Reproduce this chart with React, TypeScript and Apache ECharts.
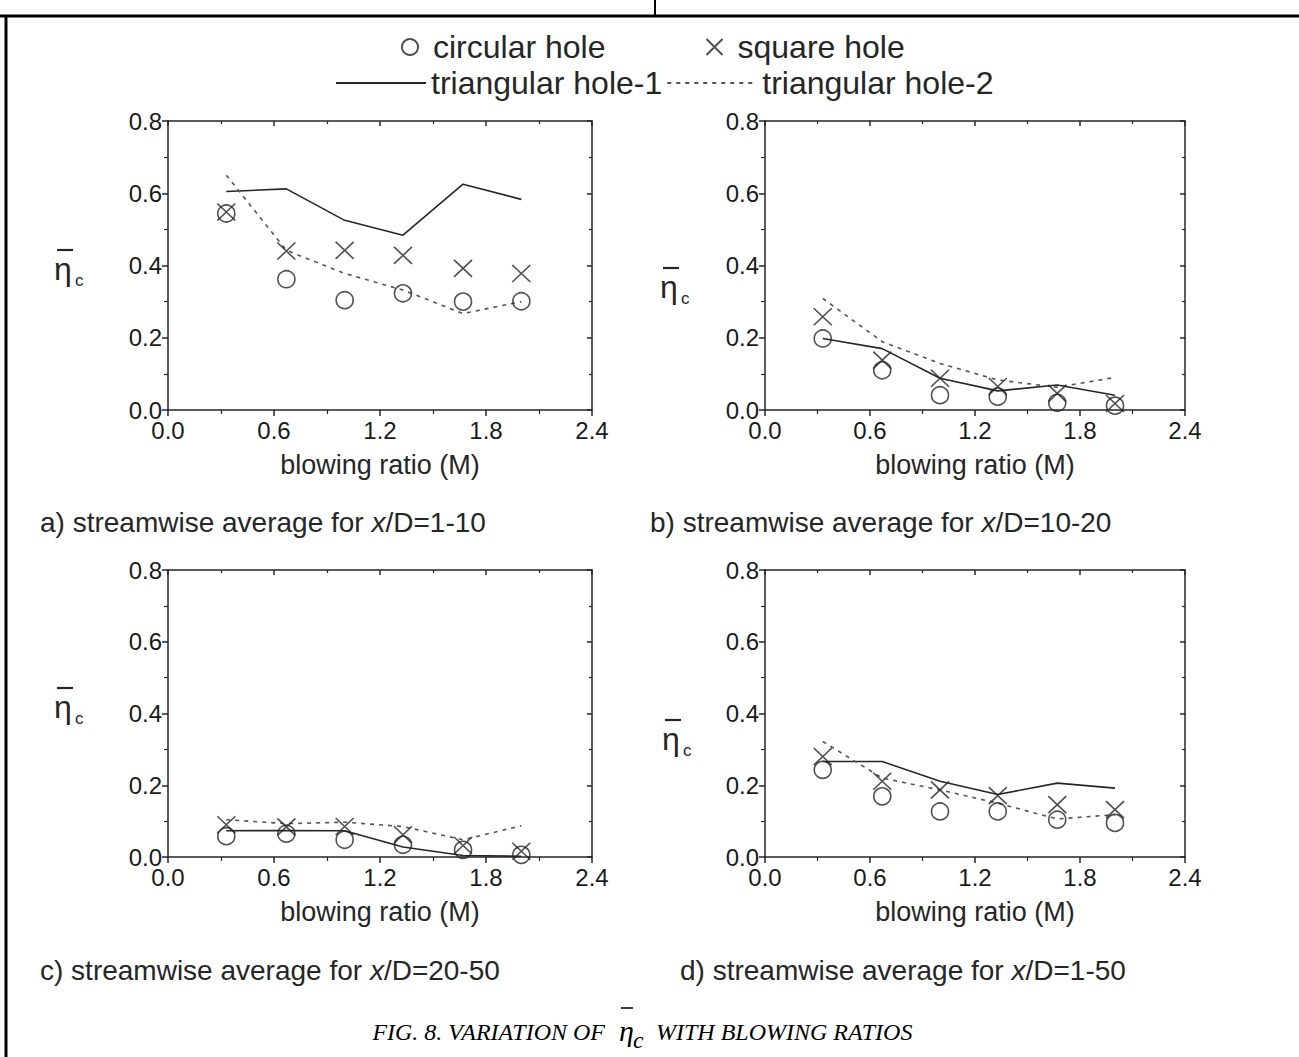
import React, { useEffect, useRef } from "react";
import * as echarts from "echarts";

// ---- data ----
const blowingRatio = [0.33, 0.67, 1.0, 1.33, 1.67, 2.0];

const aCircular = [0.544, 0.362, 0.304, 0.323, 0.3, 0.301];
const aSquare = [0.548, 0.44, 0.442, 0.428, 0.392, 0.378];
const aTri1 = [0.605, 0.612, 0.525, 0.484, 0.625, 0.583];
const aTri2 = [0.65, 0.442, 0.378, 0.332, 0.267, 0.3];

const bCircular = [0.198, 0.11, 0.041, 0.037, 0.02, 0.012];
const bSquare = [0.258, 0.138, 0.088, 0.065, 0.046, 0.018];
const bTri1 = [0.198, 0.17, 0.088, 0.053, 0.069, 0.041];
const bTri2 = [0.309, 0.189, 0.129, 0.083, 0.063, 0.09];

const cCircular = [0.058, 0.065, 0.048, 0.034, 0.02, 0.006];
const cSquare = [0.09, 0.084, 0.085, 0.062, 0.032, 0.016];
const cTri1 = [0.073, 0.074, 0.073, 0.028, 0.004, 0.002];
const cTri2 = [0.104, 0.093, 0.097, 0.085, 0.048, 0.087];

const dCircular = [0.243, 0.169, 0.127, 0.127, 0.104, 0.095];
const dSquare = [0.28, 0.211, 0.187, 0.171, 0.146, 0.132];
const dTri1 = [0.266, 0.266, 0.211, 0.174, 0.206, 0.192];
const dTri2 = [0.322, 0.22, 0.187, 0.15, 0.106, 0.118];

const xTicks = { min: 0, max: 2.4, interval: 0.6 };
const yTicks = { min: 0, max: 0.8, interval: 0.2 };

const seriesNames = ["circular hole", "square hole", "triangular hole-1", "triangular hole-2"];
const panelTitles = [
  ["a) streamwise average for ", "1-10"],
  ["b) streamwise average for ", "10-20"],
  ["c) streamwise average for ", "20-50"],
  ["d) streamwise average for ", "1-50"],
];
const panels = [
  [aCircular, aSquare, aTri1, aTri2],
  [bCircular, bSquare, bTri1, bTri2],
  [cCircular, cSquare, cTri1, cTri2],
  [dCircular, dSquare, dTri1, dTri2],
];

// ---- layout / style ----
const FONT = '"Liberation Sans", Arial, sans-serif';
const SERIF = '"Liberation Serif", "Times New Roman", serif';
const INK = "#262626";
const grids = [
  { left: 168, top: 121, width: 424, height: 289 },
  { left: 765, top: 121, width: 420, height: 289 },
  { left: 168, top: 570, width: 424, height: 287 },
  { left: 765, top: 570, width: 420, height: 287 },
];
const etaPos = [
  [54, 250],
  [660, 268],
  [54, 688],
  [662, 720],
];
const titlePos = [
  [40, 522],
  [650, 522],
  [40, 970],
  [680, 970],
];

const CROSS = "path://M0,0L20,20M20,0L0,20";

function pairs(ys: number[]) {
  return ys.map((y, i) => [blowingRatio[i], y]);
}

function axisLine() {
  return { show: true, onZero: false, lineStyle: { color: INK, width: 1.5 } };
}

function buildOption() {
  const xAxis: any[] = [];
  const yAxis: any[] = [];
  const series: any[] = [];
  grids.forEach((_, gi) => {
    xAxis.push({
      gridIndex: gi,
      type: "value",
      position: "bottom",
      ...xTicks,
      axisLine: axisLine(),
      axisTick: { show: true, inside: false, length: 6, lineStyle: { color: INK, width: 1.5 } },
      minorTick: { show: true, splitNumber: 2, length: 4, lineStyle: { color: INK, width: 1.2 } },
      axisLabel: {
        formatter: (v: number) => v.toFixed(1),
        fontSize: 24,
        fontFamily: FONT,
        color: "#1a1a1a",
        margin: 8,
      },
      splitLine: { show: false },
      minorSplitLine: { show: false },
      name: "blowing ratio (M)",
      nameLocation: "middle",
      nameGap: 41,
      nameTextStyle: { fontSize: 27, fontFamily: FONT, color: INK },
    });
    xAxis.push({
      gridIndex: gi,
      type: "value",
      position: "top",
      ...xTicks,
      axisLine: axisLine(),
      axisTick: { show: true, inside: true, length: 5, lineStyle: { color: INK, width: 1.5 } },
      minorTick: { show: true, splitNumber: 2, length: 3, lineStyle: { color: INK, width: 1.2 } },
      axisLabel: { show: false },
      splitLine: { show: false },
    });
    yAxis.push({
      gridIndex: gi,
      type: "value",
      position: "left",
      ...yTicks,
      axisLine: axisLine(),
      axisTick: { show: true, inside: false, length: 6, lineStyle: { color: INK, width: 1.5 } },
      minorTick: { show: true, splitNumber: 2, length: 4, lineStyle: { color: INK, width: 1.2 } },
      axisLabel: {
        formatter: (v: number) => v.toFixed(1),
        fontSize: 24,
        fontFamily: FONT,
        color: "#1a1a1a",
        margin: 6,
      },
      splitLine: { show: false },
    });
    yAxis.push({
      gridIndex: gi,
      type: "value",
      position: "right",
      ...yTicks,
      axisLine: axisLine(),
      axisTick: { show: true, inside: true, length: 5, lineStyle: { color: INK, width: 1.5 } },
      minorTick: { show: true, splitNumber: 2, length: 3, lineStyle: { color: INK, width: 1.2 } },
      axisLabel: { show: false },
      splitLine: { show: false },
    });
    const [circ, sq, t1, t2] = panels[gi];
    const xi = gi * 2;
    const yi = gi * 2;
    series.push({
      name: seriesNames[0],
      type: "scatter",
      xAxisIndex: xi,
      yAxisIndex: yi,
      symbol: "circle",
      symbolSize: 17,
      itemStyle: { color: "rgba(0,0,0,0)", borderColor: INK, borderWidth: 1.6 },
      data: pairs(circ),
      z: 3,
    });
    series.push({
      name: seriesNames[1],
      type: "scatter",
      xAxisIndex: xi,
      yAxisIndex: yi,
      symbol: CROSS,
      symbolSize: [18, 17],
      itemStyle: { color: "rgba(0,0,0,0)", borderColor: INK, borderWidth: 1.6 },
      data: pairs(sq),
      z: 3,
    });
    series.push({
      name: seriesNames[2],
      type: "line",
      xAxisIndex: xi,
      yAxisIndex: yi,
      symbol: "none",
      showSymbol: false,
      lineStyle: { color: INK, width: 1.6, type: "solid" },
      itemStyle: { color: INK },
      data: pairs(t1),
      z: 2,
    });
    series.push({
      name: seriesNames[3],
      type: "line",
      xAxisIndex: xi,
      yAxisIndex: yi,
      symbol: "none",
      showSymbol: false,
      lineStyle: { color: "#555", width: 1.6, type: [4, 5] },
      itemStyle: { color: "#555" },
      data: pairs(t2),
      z: 2,
    });
  });

  const graphic: any[] = [];
  // outer frame lines
  graphic.push({ type: "line", shape: { x1: 0, y1: 16, x2: 1299, y2: 16 }, style: { stroke: "#000", lineWidth: 3 } });
  graphic.push({ type: "line", shape: { x1: 6, y1: 16, x2: 6, y2: 1057 }, style: { stroke: "#000", lineWidth: 3 } });
  graphic.push({ type: "line", shape: { x1: 655, y1: 0, x2: 655, y2: 16 }, style: { stroke: "#000", lineWidth: 2 } });

  // y-axis labels (eta bar, subscript c)
  etaPos.forEach(([x, y]) => {
    graphic.push({
      type: "group",
      x,
      y,
      children: [
        { type: "line", shape: { x1: 3, y1: 0, x2: 19, y2: 0 }, style: { stroke: INK, lineWidth: 2.2 } },
        {
          type: "text",
          x: 0,
          y: 3,
          style: { text: "η", font: `32px ${FONT}`, fill: INK, verticalAlign: "top", align: "left" },
        },
        {
          type: "text",
          x: 21,
          y: 22,
          style: { text: "c", font: `17px ${FONT}`, fill: INK, verticalAlign: "top", align: "left" },
        },
      ],
    });
  });

  // panel subtitles
  titlePos.forEach(([x, y], i) => {
    graphic.push({
      type: "text",
      x,
      y,
      style: {
        text: `{n|${panelTitles[i][0]}}{i|x}{n|/D=${panelTitles[i][1]}}`,
        verticalAlign: "middle",
        align: "left",
        rich: {
          n: { fontSize: 28, fontFamily: FONT, fill: INK, color: INK },
          i: { fontSize: 28, fontFamily: FONT, fontStyle: "italic", fill: INK, color: INK },
        },
      },
    });
  });

  // figure caption
  graphic.push({
    type: "text",
    x: 605,
    y: 1032,
    style: { text: "FIG. 8. VARIATION OF", font: `italic 24px ${SERIF}`, fill: "#000", align: "right", verticalAlign: "middle" },
  });
  graphic.push({
    type: "text",
    x: 619,
    y: 1030,
    style: { text: "η", font: `italic 30px ${SERIF}`, fill: "#000", align: "left", verticalAlign: "middle" },
  });
  graphic.push({
    type: "text",
    x: 633,
    y: 1040,
    style: { text: "c", font: `italic 24px ${SERIF}`, fill: "#000", align: "left", verticalAlign: "middle" },
  });
  graphic.push({ type: "line", shape: { x1: 621, y1: 1008, x2: 633, y2: 1008 }, style: { stroke: "#000", lineWidth: 1.5 } });
  graphic.push({
    type: "text",
    x: 656,
    y: 1032,
    style: { text: "WITH BLOWING RATIOS", font: `italic 24px ${SERIF}`, fill: "#000", align: "left", verticalAlign: "middle" },
  });

  const hidden = { opacity: 0, borderWidth: 0 };
  return {
    animation: false,
    backgroundColor: "#fff",
    grid: grids.map((g) => ({ ...g, containLabel: false })),
    xAxis,
    yAxis,
    legend: [
      {
        data: [
          { name: seriesNames[0], icon: "circle", itemStyle: { color: "rgba(0,0,0,0)", borderColor: INK, borderWidth: 2 } },
          { name: seriesNames[1], icon: CROSS, itemStyle: { color: "rgba(0,0,0,0)", borderColor: INK, borderWidth: 2 } },
        ],
        left: 396,
        top: 26,
        itemWidth: 16,
        itemHeight: 19,
        itemGap: 100,
        selectedMode: false,
        textStyle: { fontSize: 32, fontFamily: FONT, color: INK, padding: [0, 0, 0, 10] },
      },
      {
        data: [
          { name: seriesNames[2], itemStyle: hidden },
          { name: seriesNames[3], itemStyle: hidden },
        ],
        left: 330,
        top: 62,
        itemWidth: 90,
        itemHeight: 14,
        itemGap: 4,
        selectedMode: false,
        textStyle: { fontSize: 32, fontFamily: FONT, color: INK, padding: [0, 0, 0, 0] },
      },
    ],
    series,
    graphic,
  };
}

export default function App() {
  const ref = useRef<HTMLDivElement>(null);
  useEffect(() => {
    if (!ref.current) return;
    const chart = echarts.init(ref.current, undefined, { renderer: "svg" });
    chart.setOption(buildOption() as any);
    return () => chart.dispose();
  }, []);
  return (
    <div
      ref={ref}
      style={{ position: "absolute", left: 0, top: 0, width: 1299, height: 1057, background: "#fff" }}
    />
  );
}
